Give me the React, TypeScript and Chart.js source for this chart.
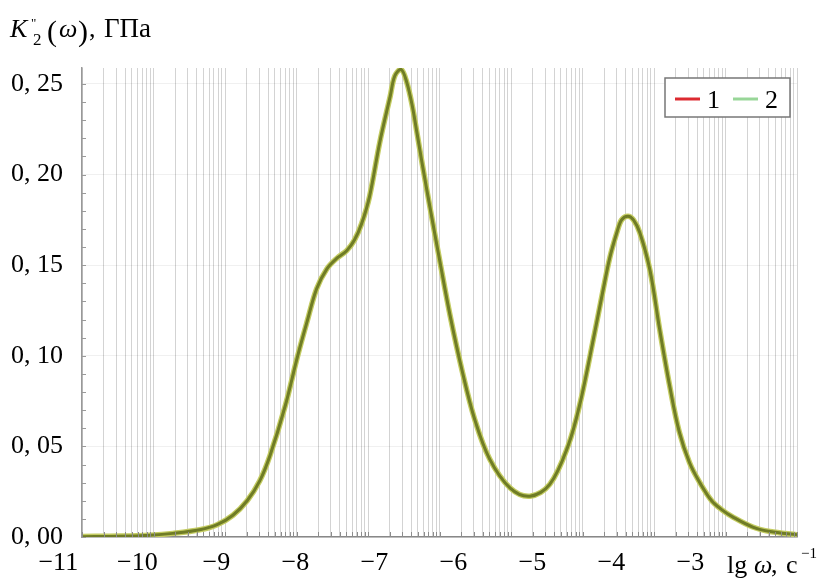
import React, { useEffect, useRef } from "react";
import { Chart, registerables } from "chart.js";

Chart.register(...registerables);

// ---- data ----
const seriesLabels = ["1", "2"];
const lgOmega = [
  -10.7, -10.22, -9.84, -9.55, -9.21, -8.99, -8.79, -8.61, -8.45, -8.32, -8.13, -7.97,
  -7.85, -7.73, -7.6, -7.47, -7.35, -7.25, -7.16, -7.06, -6.93, -6.8, -6.74, -6.66,
  -6.59, -6.52, -6.46, -6.39, -6.3, -6.17, -6.04, -5.89, -5.73, -5.54, -5.28, -5.03,
  -4.78, -4.55, -4.4, -4.21, -4.11, -4.02, -3.93, -3.87, -3.79, -3.72, -3.64, -3.51,
  -3.39, -3.26, -3.14, -3.01, -2.88, -2.73, -2.6, -2.46, -2.21, -1.99, -1.65,
];
const k2Curve1 = [
  0.0003, 0.0005, 0.001, 0.002, 0.004, 0.0068, 0.012, 0.02, 0.031, 0.045, 0.072, 0.1,
  0.119, 0.137, 0.148, 0.154, 0.158, 0.164, 0.173, 0.188, 0.218, 0.243, 0.2545, 0.258,
  0.251, 0.238, 0.223, 0.205, 0.183, 0.152, 0.122, 0.092, 0.065, 0.043, 0.027, 0.0225,
  0.029, 0.05, 0.073, 0.113, 0.135, 0.154, 0.168, 0.175, 0.177, 0.175, 0.168, 0.147,
  0.115, 0.083, 0.058, 0.041, 0.03, 0.02, 0.015, 0.011, 0.0055, 0.003, 0.0012,
];
const k2Curve2 = [
  0.0002, 0.0004, 0.001, 0.002, 0.004, 0.0068, 0.012, 0.02, 0.031, 0.045, 0.072, 0.1,
  0.119, 0.137, 0.148, 0.154, 0.158, 0.164, 0.173, 0.188, 0.218, 0.243, 0.2545, 0.258,
  0.251, 0.238, 0.223, 0.205, 0.183, 0.152, 0.122, 0.092, 0.065, 0.043, 0.027, 0.0225,
  0.029, 0.05, 0.073, 0.113, 0.135, 0.154, 0.168, 0.175, 0.177, 0.175, 0.168, 0.147,
  0.115, 0.083, 0.058, 0.041, 0.03, 0.02, 0.015, 0.011, 0.0055, 0.003, 0.0012,
];
const xTickValues = [-11, -10, -9, -8, -7, -6, -5, -4, -3];
const yTickValues = [0, 0.05, 0.1, 0.15, 0.2, 0.25];

// ---- style ----
const SERIF = '"Liberation Serif", "Times New Roman", serif';
const legendColors = ["#dc2a30", "#98d698"];
const lineColors = ["#c4cc62", "#6f7c26"];
const lineWidths = [5.5, 3];
const drawOrder = [1, 0];

const W = 820;
const H = 579;

function buildGridValues(): number[] {
  const vals: number[] = [];
  for (let d = 0; d < 10; d++) {
    for (let m = 1; m <= 9; m++) vals.push(d + Math.log10(m));
  }
  vals.push(10);
  return vals;
}

const decorPlugin = {
  id: "decor",
  afterDraw(chart: any) {
    const { ctx, chartArea, scales } = chart;
    const yS = scales.y;
    const gS = scales.xg;
    ctx.save();
    // minor ticks on y axis
    ctx.strokeStyle = "#9a9a9a";
    ctx.lineWidth = 1;
    for (let i = 0; i <= 25; i++) {
      const py = Math.round(yS.getPixelForValue(i / 100)) + 0.5;
      ctx.beginPath();
      ctx.moveTo(chartArea.left, py);
      ctx.lineTo(chartArea.left + 4, py);
      ctx.stroke();
    }
    // small ticks on x axis at grid positions
    ctx.strokeStyle = "#8c8c8c";
    for (const t of gS.ticks) {
      const px = Math.round(gS.getPixelForValue(t.value)) + 0.5;
      ctx.beginPath();
      ctx.moveTo(px, chartArea.bottom - 5);
      ctx.lineTo(px, chartArea.bottom);
      ctx.stroke();
    }

    // y title: K''_2(ω), ГПа
    ctx.fillStyle = "#000";
    ctx.textBaseline = "alphabetic";
    ctx.textAlign = "left";
    ctx.font = `italic 26px ${SERIF}`;
    ctx.fillText("K", 10, 37);
    ctx.font = `13px ${SERIF}`;
    ctx.fillText("\"", 31, 27);
    ctx.font = `17px ${SERIF}`;
    ctx.fillText("2", 33, 45);
    ctx.font = `30px ${SERIF}`;
    ctx.fillText("(", 47, 41);
    ctx.font = `italic 26px ${SERIF}`;
    ctx.fillText("ω", 59, 37);
    ctx.font = `30px ${SERIF}`;
    ctx.fillText(")", 78, 41);
    ctx.font = `26px ${SERIF}`;
    ctx.fillText(",", 89, 37);
    ctx.font = `27px ${SERIF}`;
    ctx.fillText("ГПа", 104, 37);

    // x title: lg ω, с^-1
    ctx.font = `26px ${SERIF}`;
    ctx.fillText("lg", 727, 573);
    ctx.font = `italic 26px ${SERIF}`;
    ctx.fillText("ω", 754, 573);
    ctx.font = `26px ${SERIF}`;
    ctx.fillText(",", 771, 573);
    ctx.fillText("с", 786, 573);
    ctx.font = `15px ${SERIF}`;
    ctx.fillText("−1", 801, 558);

    // legend
    const lx = 665, ly = 78, lw = 125, lh = 39;
    ctx.fillStyle = "#fff";
    ctx.fillRect(lx, ly, lw, lh);
    ctx.strokeStyle = "#777";
    ctx.lineWidth = 1.5;
    ctx.strokeRect(lx, ly, lw, lh);
    const items = chart.data.datasets.map((d: any, i: number) => ({ label: d.label, color: legendColors[i] }));
    const itemX = [675, 733];
    ctx.font = `26px ${SERIF}`;
    items.forEach((it: any, i: number) => {
      ctx.strokeStyle = it.color;
      ctx.lineWidth = 3;
      ctx.beginPath();
      ctx.moveTo(itemX[i], ly + 21);
      ctx.lineTo(itemX[i] + 25, ly + 21);
      ctx.stroke();
      ctx.fillStyle = "#000";
      ctx.fillText(it.label, itemX[i] + 32, ly + 30);
    });
    ctx.restore();
  },
};

export default function App() {
  const ref = useRef<HTMLCanvasElement | null>(null);
  useEffect(() => {
    if (!ref.current) return;
    const gridValues = buildGridValues();
    const chart = new Chart(ref.current, {
      type: "line",
      data: {
        datasets: [k2Curve1, k2Curve2].map((vals, i) => ({
          label: seriesLabels[i],
          data: lgOmega.map((x, j) => ({ x, y: vals[j] })),
          borderColor: lineColors[i],
          borderWidth: lineWidths[i],
          order: drawOrder[i],
          pointRadius: 0,
          fill: false,
          tension: 0.35,
        })),
      },
      options: {
        responsive: false,
        animation: false,
        layout: { padding: { top: 68, right: 23, left: 0, bottom: 0 } },
        plugins: { legend: { display: false }, tooltip: { enabled: false }, title: { display: false } },
        scales: {
          x: {
            type: "linear",
            position: "bottom",
            min: -10.7,
            max: -1.65,
            afterBuildTicks: (s: any) => {
              s.ticks = xTickValues.map((v) => ({ value: v }));
            },
            afterFit: (s: any) => {
              s.height = 42;
            },
            ticks: {
              autoSkip: false,
              maxRotation: 0,
              padding: 11,
              color: "#000",
              font: { family: SERIF, size: 26 },
              callback: (v: any) => "−" + Math.abs(Number(v)),
            },
            grid: { display: false, drawTicks: false },
            border: { display: true, color: "#888", width: 1.5 },
          },
          xg: {
            type: "linear",
            position: "top",
            min: 0,
            max: 10,
            afterBuildTicks: (s: any) => {
              s.ticks = gridValues.map((v) => ({ value: v }));
            },
            afterFit: (s: any) => {
              s.height = 0;
            },
            ticks: { display: false },
            grid: { color: "rgba(140,140,140,0.38)", lineWidth: 1, drawTicks: false },
            border: { display: false },
          },
          y: {
            type: "linear",
            min: 0,
            max: 0.2588,
            afterBuildTicks: (s: any) => {
              s.ticks = yTickValues.map((v) => ({ value: v }));
            },
            afterFit: (s: any) => {
              s.width = 82;
            },
            ticks: {
              padding: 19,
              color: "#000",
              font: { family: SERIF, size: 26 },
              callback: (v: any) => Number(v).toFixed(2).replace(".", ", "),
            },
            grid: { color: "rgba(0,0,0,0.06)", drawTicks: false },
            border: { display: true, color: "#999", width: 1.5 },
          },
        },
      },
      plugins: [decorPlugin],
    });
    return () => chart.destroy();
  }, []);
  return (
    <canvas
      ref={ref}
      width={W}
      height={H}
      style={{ position: "fixed", left: 0, top: 0, width: W, height: H, background: "#fff" }}
    />
  );
}
